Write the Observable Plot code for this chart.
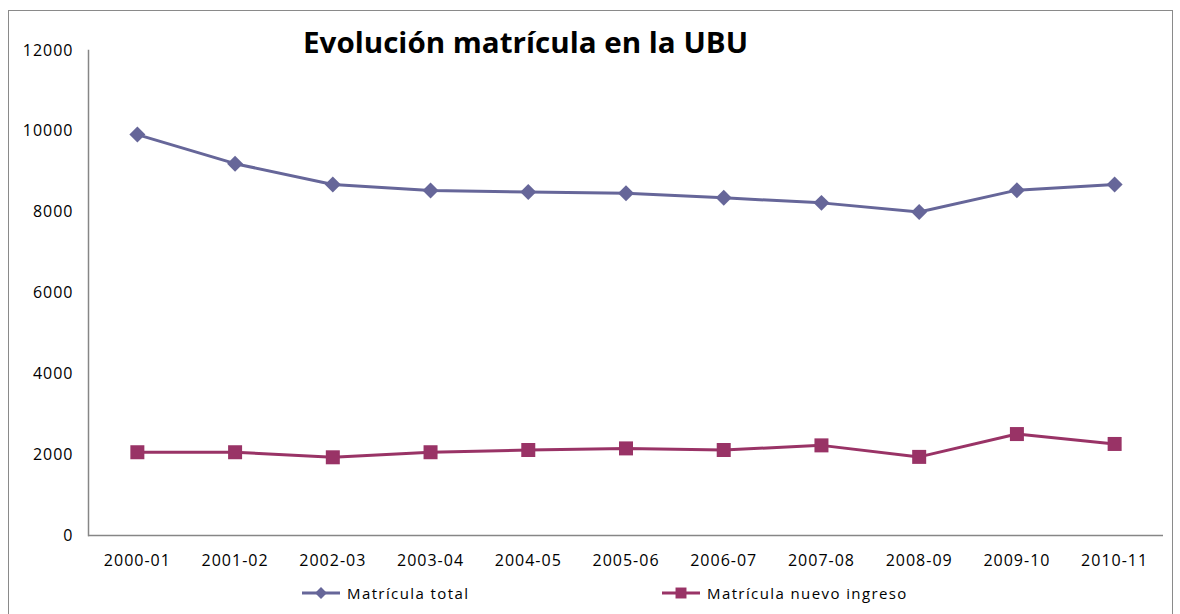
<!DOCTYPE html>
<html>
<head>
<meta charset="utf-8">
<script src="https://cdn.jsdelivr.net/npm/d3@7"></script>
<script src="https://cdn.jsdelivr.net/npm/@observablehq/plot@0.6"></script>
<style>
  html, body { margin: 0; padding: 0; background: #fff; }
  #wrap { position: relative; width: 1180px; height: 614px; overflow: hidden; font-family: "Open Sans", sans-serif; }
  #border { position: absolute; left: 8px; top: 10px; width: 1165px; height: 620px; border: 1px solid #8a8a8a; box-sizing: border-box; }
  #chart { position: absolute; left: 0; top: 0; }
  #title { position: absolute; left: 0; top: 0; }
  .leg { position: absolute; top: 584px; height: 18px; display: flex; align-items: center; font-size: 15px; letter-spacing: 1.4px; color: #000; }
  .leg svg { margin-right: 7px; }
</style>
</head>
<body>
<div id="wrap">
  <div id="border"></div>
  <div id="chart"></div>
  <svg id="title" width="1180" height="70"></svg>
  <div id="legend"></div>
</div>
<script>
const categories = ["2000-01","2001-02","2002-03","2003-04","2004-05","2005-06","2006-07","2007-08","2008-09","2009-10","2010-11"];
const matriculaTotal = [9920, 9200, 8685, 8535, 8500, 8470, 8355, 8230, 8005, 8545, 8685];
const matriculaNuevo = [2060, 2060, 1935, 2060, 2115, 2155, 2115, 2230, 1945, 2510, 2265];
const yTicks = [0, 2000, 4000, 6000, 8000, 10000, 12000];
const seriesNames = ["Matrícula total", "Matrícula nuevo ingreso"];
const titleText = "Evolución matrícula en la UBU";

const colTotal = "#666699";
const colNuevo = "#993366";

const totalData = categories.map((c, i) => ({cat: c, value: matriculaTotal[i]}));
const nuevoData = categories.map((c, i) => ({cat: c, value: matriculaNuevo[i]}));

const chart = Plot.plot({
  width: 1180,
  height: 575,
  marginLeft: 88,
  marginRight: 17,
  marginTop: 50,
  marginBottom: 40,
  style: {fontFamily: "Open Sans", fontSize: "16px", letterSpacing: "1px", color: "#000", background: "transparent", overflow: "visible"},
  x: {type: "point", domain: categories, padding: 0.5, round: false, label: null},
  y: {domain: [0, 12000], label: null},
  marks: [
    Plot.axisY({ticks: yTicks, tickSize: 0, tickPadding: 15, tickFormat: d => String(d), label: null}),
    Plot.axisX({tickSize: 0, tickPadding: 19, label: null}),
    Plot.frame({anchor: "left", stroke: "#868686", strokeWidth: 1.5}),
    Plot.ruleY([0], {stroke: "#868686", strokeWidth: 1.5}),
    Plot.line(totalData, {x: "cat", y: "value", stroke: colTotal, strokeWidth: 3}),
    Plot.dot(totalData, {x: "cat", y: "value", symbol: "diamond2", r: 7.2, fill: colTotal, stroke: "none"}),
    Plot.line(nuevoData, {x: "cat", y: "value", stroke: colNuevo, strokeWidth: 3}),
    Plot.dot(nuevoData, {x: "cat", y: "value", symbol: "square", r: 7.9, fill: colNuevo, stroke: "none"})
  ]
});
document.getElementById("chart").appendChild(chart);

// Title
const tsvg = d3.select("#title");
tsvg.append("text")
  .attr("x", 303).attr("y", 53)
  .attr("font-family", "Open Sans")
  .attr("font-weight", "bold")
  .attr("font-size", 29)
  .attr("textLength", 445)
  .attr("lengthAdjust", "spacingAndGlyphs")
  .attr("fill", "#000")
  .text(titleText);

// Legend
const legend = d3.select("#legend");
const legItems = [
  {name: seriesNames[0], color: colTotal, symbol: d3.symbolDiamond2, size: 90, left: 302},
  {name: seriesNames[1], color: colNuevo, symbol: d3.symbolSquare, size: 120, left: 662}
];
legItems.forEach(it => {
  const div = legend.append("div").attr("class", "leg").style("left", it.left + "px");
  const s = div.append("svg").attr("width", 38).attr("height", 16);
  s.append("line").attr("x1", 0).attr("x2", 38).attr("y1", 8).attr("y2", 8).attr("stroke", it.color).attr("stroke-width", 3);
  s.append("path").attr("transform", "translate(19,8)").attr("d", d3.symbol(it.symbol, it.size)()).attr("fill", it.color);
  div.append("span").text(it.name);
});
</script>
</body>
</html>
